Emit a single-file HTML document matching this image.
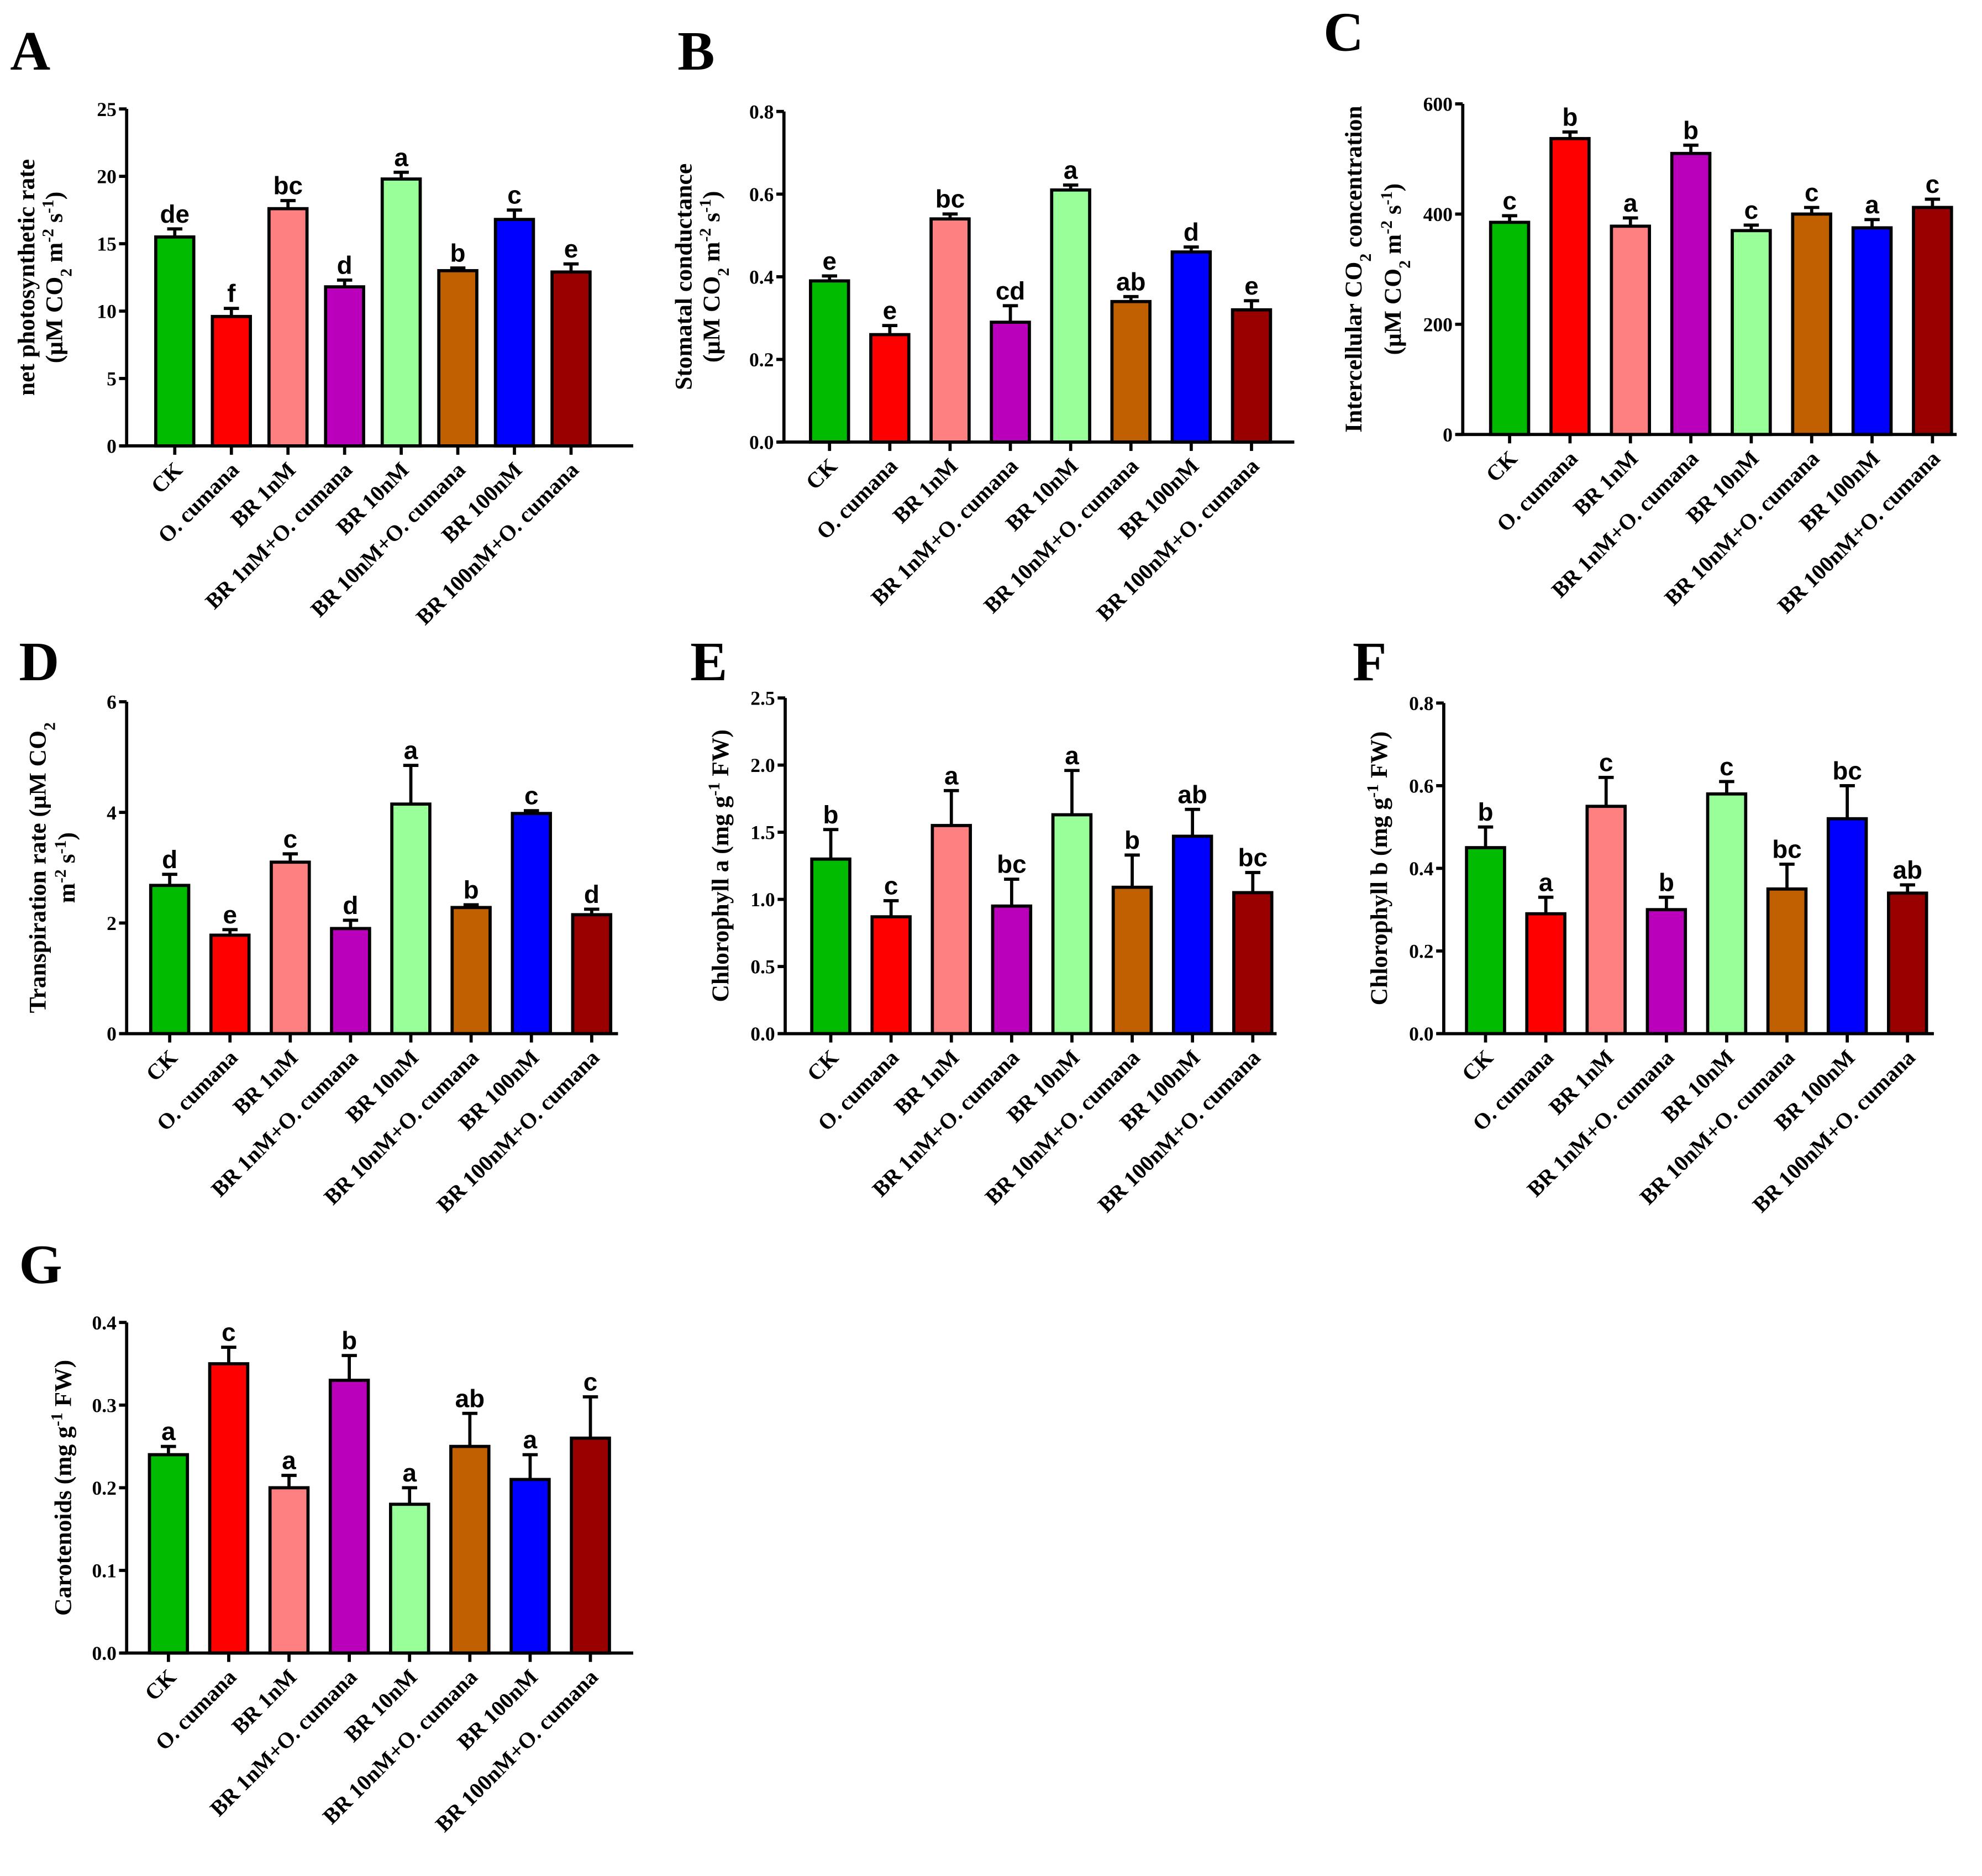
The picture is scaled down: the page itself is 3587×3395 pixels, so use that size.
<!DOCTYPE html>
<html><head><meta charset="utf-8"><style>
html,body{margin:0;padding:0;background:#fff;}
svg{display:block;}
</style></head><body>
<svg id="fig" xmlns="http://www.w3.org/2000/svg" width="3587" height="3395" viewBox="0 0 1565 1481" preserveAspectRatio="none"></svg>
<script>
const categories = ["CK","O. cumana","BR 1nM","BR 1nM+O. cumana","BR 10nM","BR 10nM+O. cumana","BR 100nM","BR 100nM+O. cumana"];
const colors = ["#00bb00","#ff0000","#ff8080","#bb00bb","#99ff99","#c06000","#0000ff","#990000"];
const valuesA = [15.5,9.6,17.6,11.8,19.8,13.0,16.8,12.9];
const errorsA = [0.6,0.6,0.6,0.5,0.5,0.2,0.7,0.6];
const lettersA = ["de","f","bc","d","a","b","c","e"];
const ticksA = [0,5,10,15,20,25];
const valuesB = [0.39,0.26,0.54,0.29,0.61,0.34,0.46,0.32];
const errorsB = [0.012,0.022,0.012,0.04,0.012,0.012,0.012,0.022];
const lettersB = ["e","e","bc","cd","a","ab","d","e"];
const ticksB = [0,0.2,0.4,0.6,0.8];
const valuesC = [385,537,378,510,370,400,375,412];
const errorsC = [12,12,15,15,10,12,15,15];
const lettersC = ["c","b","a","b","c","c","a","c"];
const ticksC = [0,200,400,600];
const valuesD = [2.68,1.78,3.1,1.9,4.15,2.28,3.98,2.15];
const errorsD = [0.2,0.1,0.15,0.15,0.7,0.05,0.05,0.1];
const lettersD = ["d","e","c","d","a","b","c","d"];
const ticksD = [0,2,4,6];
const valuesE = [1.3,0.87,1.55,0.95,1.63,1.09,1.47,1.05];
const errorsE = [0.22,0.12,0.26,0.2,0.33,0.24,0.2,0.15];
const lettersE = ["b","c","a","bc","a","b","ab","bc"];
const ticksE = [0,0.5,1.0,1.5,2.0,2.5];
const valuesF = [0.45,0.29,0.55,0.30,0.58,0.35,0.52,0.34];
const errorsF = [0.05,0.04,0.07,0.03,0.03,0.06,0.08,0.02];
const lettersF = ["b","a","c","b","c","bc","bc","ab"];
const ticksF = [0,0.2,0.4,0.6,0.8];
const valuesG = [0.24,0.35,0.20,0.33,0.18,0.25,0.21,0.26];
const errorsG = [0.01,0.02,0.015,0.03,0.02,0.04,0.03,0.05];
const lettersG = ["a","c","a","b","a","ab","a","c"];
const ticksG = [0,0.1,0.2,0.3,0.4];

const NS="http://www.w3.org/2000/svg";
const svg=document.getElementById('fig');
function mk(tag,attrs,parent){const e=document.createElementNS(NS,tag);for(const k in attrs)e.setAttribute(k,attrs[k]);(parent||svg).appendChild(e);return e;}
function sup(t,txt,shift){const s=document.createElementNS(NS,'tspan');s.setAttribute('baseline-shift',shift);s.setAttribute('font-size','13');s.textContent=txt;t.appendChild(s);}
function plain(t,txt){const s=document.createElementNS(NS,'tspan');s.textContent=txt;t.appendChild(s);}
function richLine(t,parts){parts.forEach(p=>{if(typeof p==='string')plain(t,p);else sup(t,p[0],p[1]);});}

const panels=[
 {id:'a',letter:'A',lx:8,ly:55,ax:100,y0:352,yTop:86,vmax:25,x0:138,dx:44.7,xEnd:500,vals:valuesA,errs:errorsA,lets:lettersA,ticks:ticksA,fmt:v=>String(v),
  title:[{x:20,parts:["net photosynthetic rate"]},{x:42,parts:["(μM CO",["2","sub"]," m",["-2","super"]," s",["-1","super"],")"]}]},
 {id:'b',letter:'B',lx:535,ly:55,ax:619,y0:349,yTop:88,vmax:0.8,x0:655,dx:47.6,xEnd:1022,vals:valuesB,errs:errorsB,lets:lettersB,ticks:ticksB,fmt:v=>v.toFixed(1),
  title:[{x:539,parts:["Stomatal conductance"]},{x:561,parts:["(μM CO",["2","sub"]," m",["-2","super"]," s",["-1","super"],")"]}]},
 {id:'c',letter:'C',lx:1045,ly:40,ax:1155,y0:343,yTop:82,vmax:600,x0:1192,dx:47.7,xEnd:1545,vals:valuesC,errs:errorsC,lets:lettersC,ticks:ticksC,fmt:v=>String(v),
  title:[{x:1068,parts:["Intercellular CO",["2","sub"]," concentration"]},{x:1099,parts:["(μM CO",["2","sub"]," m",["-2","super"]," s",["-1","super"],")"]}]},
 {id:'d',letter:'D',lx:15,ly:537,ax:100,y0:816,yTop:554,vmax:6,x0:134,dx:47.6,xEnd:488,vals:valuesD,errs:errorsD,lets:lettersD,ticks:ticksD,fmt:v=>String(v),
  title:[{x:29,parts:["Transpiration rate (μM CO",["2","sub"]]},{x:52,parts:["m",["-2","super"]," s",["-1","super"],")"]}]},
 {id:'e',letter:'E',lx:545,ly:537,ax:620,y0:816,yTop:551,vmax:2.5,x0:656,dx:47.6,xEnd:1008,vals:valuesE,errs:errorsE,lets:lettersE,ticks:ticksE,fmt:v=>v.toFixed(1),
  title:[{x:568,parts:["Chlorophyll a (mg g",["-1","super"]," FW)"]}]},
 {id:'f',letter:'F',lx:1068,ly:537,ax:1140,y0:816,yTop:555,vmax:0.8,x0:1173,dx:47.6,xEnd:1527,vals:valuesF,errs:errorsF,lets:lettersF,ticks:ticksF,fmt:v=>v.toFixed(1),
  title:[{x:1088,parts:["Chlorophyll b (mg g",["-1","super"]," FW)"]}]},
 {id:'g',letter:'G',lx:15,ly:1013,ax:100,y0:1305,yTop:1044,vmax:0.4,x0:133,dx:47.6,xEnd:500,vals:valuesG,errs:errorsG,lets:lettersG,ticks:ticksG,fmt:v=>v.toFixed(1),
  title:[{x:49,parts:["Carotenoids (mg g",["-1","super"]," FW)"]}]}
];

panels.forEach(p=>{
  const g=mk('g',{});
  
  
  const y=v=>p.y0-(v/p.vmax)*(p.y0-p.yTop);
  const x=i=>p.x0+i*p.dx;
  const L=mk('text',{x:p.lx,y:p.ly,'font-family':'Liberation Serif, serif','font-weight':'bold','font-size':'44'},g);
  L.textContent=p.letter;
  
  
  const midY=(p.y0+p.yTop)/2;
  p.title.forEach((ln,k)=>{
    const t=mk('text',{x:0,y:0,transform:`translate(${ln.x+7},${midY}) rotate(-90)`,'text-anchor':'middle','font-family':'Liberation Serif, serif','font-weight':'bold','font-size':'19'},g);
    richLine(t,ln.parts);
    
    
  });
  p.vals.forEach((v,i)=>{
    const cx=x(i),top=y(v),et=y(v+p.errs[i]);
    const eb=mk('path',{d:`M${cx},${top} V${et} M${cx-6},${et} H${cx+6}`,stroke:'#000','stroke-width':'2.5',fill:'none'},g);
    
    
    const r=mk('rect',{x:cx-15,y:top,width:30,height:p.y0-top,fill:colors[i],stroke:'#000','stroke-width':'2.5'},g);
    
    
    const lt=mk('text',{x:cx,y:et-5,'text-anchor':'middle','font-family':'Liberation Sans, sans-serif','font-weight':'bold','font-size':'20'},g);
    lt.textContent=p.lets[i];
    
    
    mk('line',{x1:cx,y1:p.y0,x2:cx,y2:p.y0+7,stroke:'#000','stroke-width':'2.5'},g);
    const cl=mk('text',{x:0,y:0,transform:`translate(${cx+7},${p.y0+20}) rotate(-45)`,'text-anchor':'end','font-family':'Liberation Serif, serif','font-weight':'bold','font-size':'17.5'},g);
    cl.textContent=categories[i];
    
    
  });
  const ya=mk('line',{x1:p.ax,y1:p.yTop,x2:p.ax,y2:p.y0,stroke:'#000','stroke-width':'2.5'},g);
  
  
  const xa=mk('line',{x1:p.ax-5,y1:p.y0,x2:p.xEnd,y2:p.y0,stroke:'#000','stroke-width':'2.5'},g);
  
  
  p.ticks.forEach(tv=>{
    const ty=y(tv);
    mk('line',{x1:p.ax-6,y1:ty,x2:p.ax,y2:ty,stroke:'#000','stroke-width':'2.5'},g);
    const tl=mk('text',{x:p.ax-8,y:ty+5.5,'text-anchor':'end','font-family':'Liberation Serif, serif','font-weight':'bold','font-size':'15.5'},g);
    tl.textContent=p.fmt(tv);
    
    
  });
});
</script>
</body></html>
